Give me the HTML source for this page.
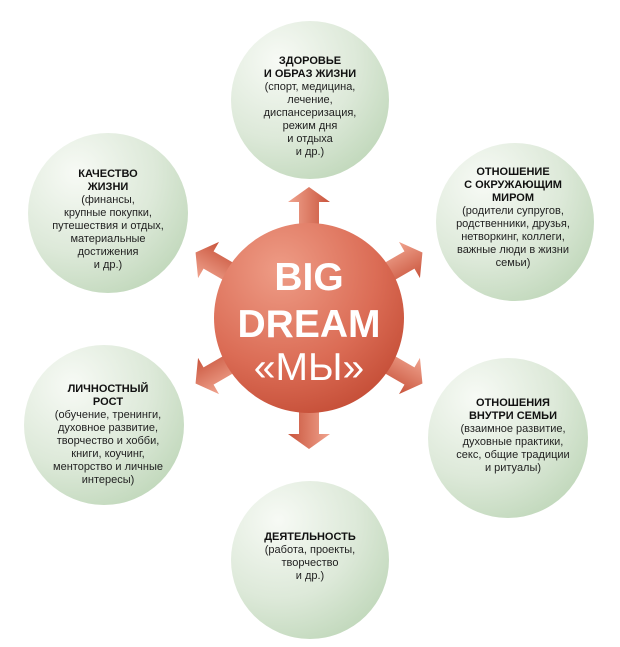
<!DOCTYPE html>
<html><head><meta charset="utf-8"><style>
html,body{margin:0;padding:0;background:#fff;}
svg{display:block}
text{font-family:"Liberation Sans",Arial,sans-serif;font-size:11px;fill:#222;text-anchor:middle}
.b{font-weight:bold;fill:#111}
.big{font-family:"Liberation Sans",Arial,sans-serif;font-weight:bold;font-size:39px;fill:#fff}
</style></head><body>
<svg width="620" height="647" viewBox="0 0 620 647">
<defs>
<radialGradient id="g" cx="0.3" cy="0.25" r="0.9">
<stop offset="0" stop-color="#f7faf5"/><stop offset="0.55" stop-color="#dde9d9"/><stop offset="1" stop-color="#bcd5b6"/>
</radialGradient>
<radialGradient id="r" cx="0.35" cy="0.25" r="0.85">
<stop offset="0" stop-color="#ee9c86"/><stop offset="0.6" stop-color="#db6c55"/><stop offset="1" stop-color="#c24a33"/>
</radialGradient>
<linearGradient id="a" x1="0" y1="0" x2="1" y2="0">
<stop offset="0" stop-color="#f0a48f"/><stop offset="1" stop-color="#c9543c"/>
</linearGradient>
<g id="arr"><polygon points="-10,-88 10,-88 10,-116 21,-116 0,-131 -21,-116 -10,-116" fill="url(#a)"/></g>
</defs>
<g>
<circle cx="310" cy="100" r="79" fill="url(#g)"/>
<circle cx="108" cy="213" r="80" fill="url(#g)"/>
<circle cx="515" cy="222" r="79" fill="url(#g)"/>
<circle cx="104" cy="425" r="80" fill="url(#g)"/>
<circle cx="508" cy="438" r="80" fill="url(#g)"/>
<circle cx="310" cy="560" r="79" fill="url(#g)"/>
</g>
<g transform="translate(309,318)">
<use href="#arr"/>
<use href="#arr" transform="rotate(60)"/>
<use href="#arr" transform="rotate(120)"/>
<use href="#arr" transform="rotate(180)"/>
<use href="#arr" transform="rotate(240)"/>
<use href="#arr" transform="rotate(300)"/>
<circle r="95" fill="url(#r)"/>
<text class="big" y="-28">BIG</text>
<text class="big" y="19">DREAM</text>
<text class="big" y="62" style="font-weight:normal">«МЫ»</text>
</g>

<text x="310" y="64" class="b">ЗДОРОВЬЕ</text>
<text x="310" y="77" class="b">И ОБРАЗ ЖИЗНИ</text>
<text x="310" y="90">(спорт, медицина,</text>
<text x="310" y="103">лечение,</text>
<text x="310" y="116">диспансеризация,</text>
<text x="310" y="129">режим дня</text>
<text x="310" y="142">и отдыха</text>
<text x="310" y="155">и др.)</text>

<text x="108" y="177" class="b">КАЧЕСТВО</text>
<text x="108" y="190" class="b">ЖИЗНИ</text>
<text x="108" y="203">(финансы,</text>
<text x="108" y="216">крупные покупки,</text>
<text x="108" y="229">путешествия и отдых,</text>
<text x="108" y="242">материальные</text>
<text x="108" y="255">достижения</text>
<text x="108" y="268">и др.)</text>

<text x="513" y="175" class="b">ОТНОШЕНИЕ</text>
<text x="513" y="188" class="b">С ОКРУЖАЮЩИМ</text>
<text x="513" y="201" class="b">МИРОМ</text>
<text x="513" y="214">(родители супругов,</text>
<text x="513" y="227">родственники, друзья,</text>
<text x="513" y="240">нетворкинг, коллеги,</text>
<text x="513" y="253">важные люди в жизни</text>
<text x="513" y="266">семьи)</text>

<text x="108" y="392" class="b">ЛИЧНОСТНЫЙ</text>
<text x="108" y="405" class="b">РОСТ</text>
<text x="108" y="418">(обучение, тренинги,</text>
<text x="108" y="431">духовное развитие,</text>
<text x="108" y="444">творчество и хобби,</text>
<text x="108" y="457">книги, коучинг,</text>
<text x="108" y="470">менторство и личные</text>
<text x="108" y="483">интересы)</text>

<text x="513" y="406" class="b">ОТНОШЕНИЯ</text>
<text x="513" y="419" class="b">ВНУТРИ СЕМЬИ</text>
<text x="513" y="432">(взаимное развитие,</text>
<text x="513" y="445">духовные практики,</text>
<text x="513" y="458">секс, общие традиции</text>
<text x="513" y="471">и ритуалы)</text>

<text x="310" y="540" class="b">ДЕЯТЕЛЬНОСТЬ</text>
<text x="310" y="553">(работа, проекты,</text>
<text x="310" y="566">творчество</text>
<text x="310" y="579">и др.)</text>
</svg>
</body></html>
